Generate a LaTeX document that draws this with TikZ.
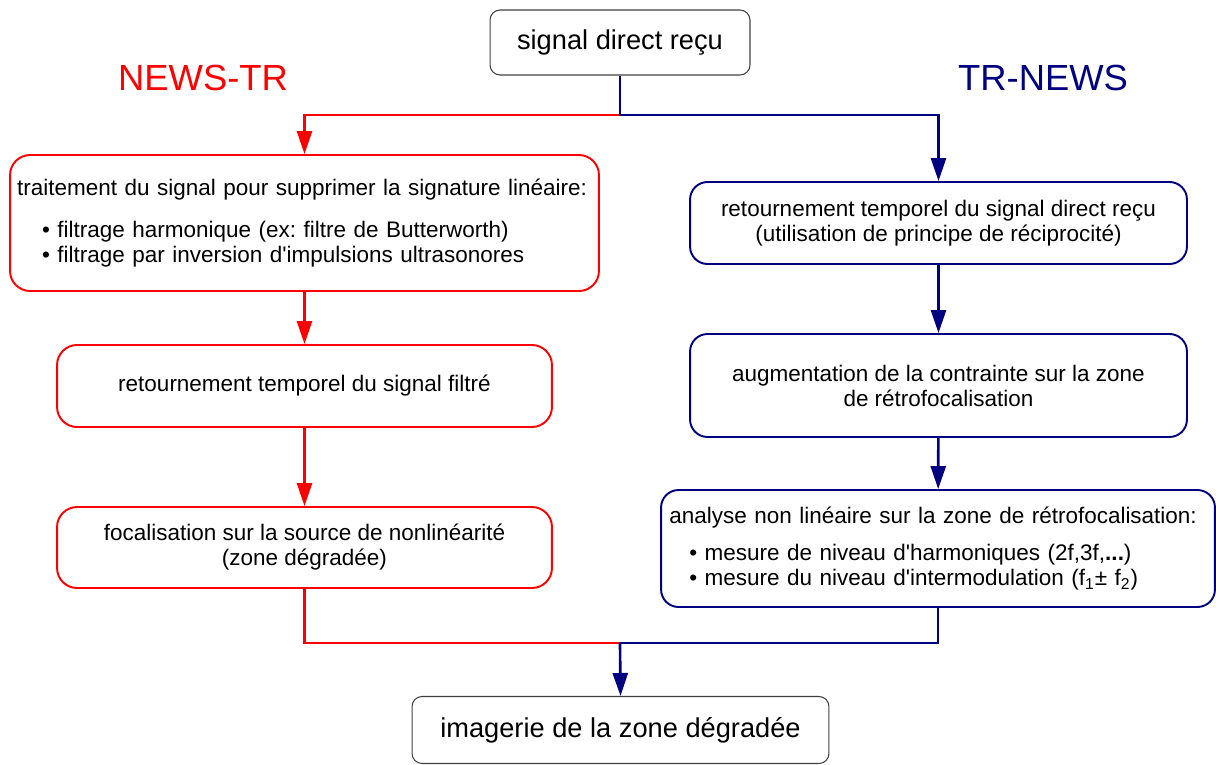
\documentclass[tikz,border=0pt]{standalone}
\usepackage{fontspec}
\setmainfont{Liberation Sans}
\usepackage{xcolor}
\usepackage{tikz}
\usetikzlibrary{arrows.meta,positioning}

\definecolor{newsred}{RGB}{255,0,0}
\definecolor{trblue}{RGB}{0,0,128}
\frenchspacing

\begin{document}
\begin{tikzpicture}[
      x=0.02cm, y=-0.02cm,
      myfont/.style={font=\fontsize{12.8}{14.2}\selectfont},
      endbox/.style={
         rectangle,
         rounded corners=0.2cm,
         draw=black!75,
         line width=0.6pt,
         font=\fontsize{15.5}{18}\selectfont},
      redbox/.style={
         rectangle,
         rounded corners=0.4cm,
         draw=newsred,
         line width=1.1pt,
         align=center,
         myfont},
      bluebox/.style={
         rectangle,
         rounded corners=0.35cm,
         draw=trblue,
         line width=1.1pt,
         align=center,
         myfont},
      redline/.style={draw=newsred, line width=1.5pt},
      blueline/.style={draw=trblue, line width=1.5pt},
      myarrow/.style={-{Triangle[length=4.6mm,width=3mm]}},
      title/.style={font=\fontsize{20.7}{24}\selectfont}
      ]
\useasboundingbox (0,0) rectangle (1216,764);

\node[endbox, minimum width=5.2cm, minimum height=1.3cm] (top) at (620,42.5) {signal direct reçu};

\node[title, text=newsred] (newstr) at (203,78) {NEWS-TR};
\node[title, text=trblue ] (trnews) at (1043,78) {TR-NEWS};

% NEWS-TR branch
\node[redbox, minimum width=11.78cm, minimum height=2.72cm, inner xsep=0.1cm,
      text width=11.5cm, align=left] (r1) at (304.5,223)
   {traitement du signal pour supprimer la signature linéaire:\\[10pt]
    \hspace*{0.5cm}\textbullet\ filtrage harmonique (ex: filtre de Butterworth)\\
    \hspace*{0.5cm}\textbullet\ filtrage par inversion d\textquotesingle impulsions ultrasonores};

\node[redbox, minimum width=9.9cm, minimum height=1.64cm] (r2) at (304.5,386)
   {retournement temporel du signal filtré};

\node[redbox, minimum width=9.9cm, minimum height=1.62cm] (r3) at (304.5,547.5)
   {focalisation sur la source de nonlinéarité\\(zone dégradée)};

% TR-NEWS branch
\node[bluebox, minimum width=9.94cm, minimum height=1.64cm] (b1) at (938.5,223)
   {retournement temporel du signal direct reçu\\(utilisation de principe de réciprocité)};

\node[bluebox, minimum width=9.94cm, minimum height=2.06cm] (b2) at (938.5,385.5)
   {augmentation de la contrainte sur la zone\\de rétrofocalisation};

\node[bluebox, minimum width=11.08cm, minimum height=2.34cm, inner xsep=0.1cm,
      text width=10.75cm, align=left] (b3) at (938,548.5)
   {analyse non linéaire sur la zone de rétrofocalisation:\\[7pt]
    \hspace*{0.4cm}\textbullet\ mesure de niveau d\textquotesingle harmoniques (2f,3f,\textbf{...})\\
    \hspace*{0.4cm}\textbullet\ mesure du niveau d\textquotesingle intermodulation (f\textsubscript{1}± f\textsubscript{2})};

\node[endbox, minimum width=8.34cm, minimum height=1.34cm] (bot) at (620.5,730)
   {imagerie de la zone dégradée};

\coordinate (split) at (620,115);
\coordinate (merge) at (620,643);

% from the received signal to both branches
\draw[redline,myarrow] (split) -| (r1.north);
\draw[blueline,myarrow] (top.south) -- (split) -| (b1.north);

\foreach \i/\j in {% start node/end node
      r1/r2,r2/r3}
       \draw[redline,myarrow] (\i) -- (\j);
\foreach \i/\j in {%
      b1/b2,b2/b3}
       \draw[blueline,myarrow] (\i) -- (\j);

% both branches meet again
\draw[redline] (r3.south) |- (merge);
\draw[blueline] (b3.south) |- (merge);
\draw[blueline,myarrow] (merge) -- (bot.north);

\end{tikzpicture}
\end{document}
